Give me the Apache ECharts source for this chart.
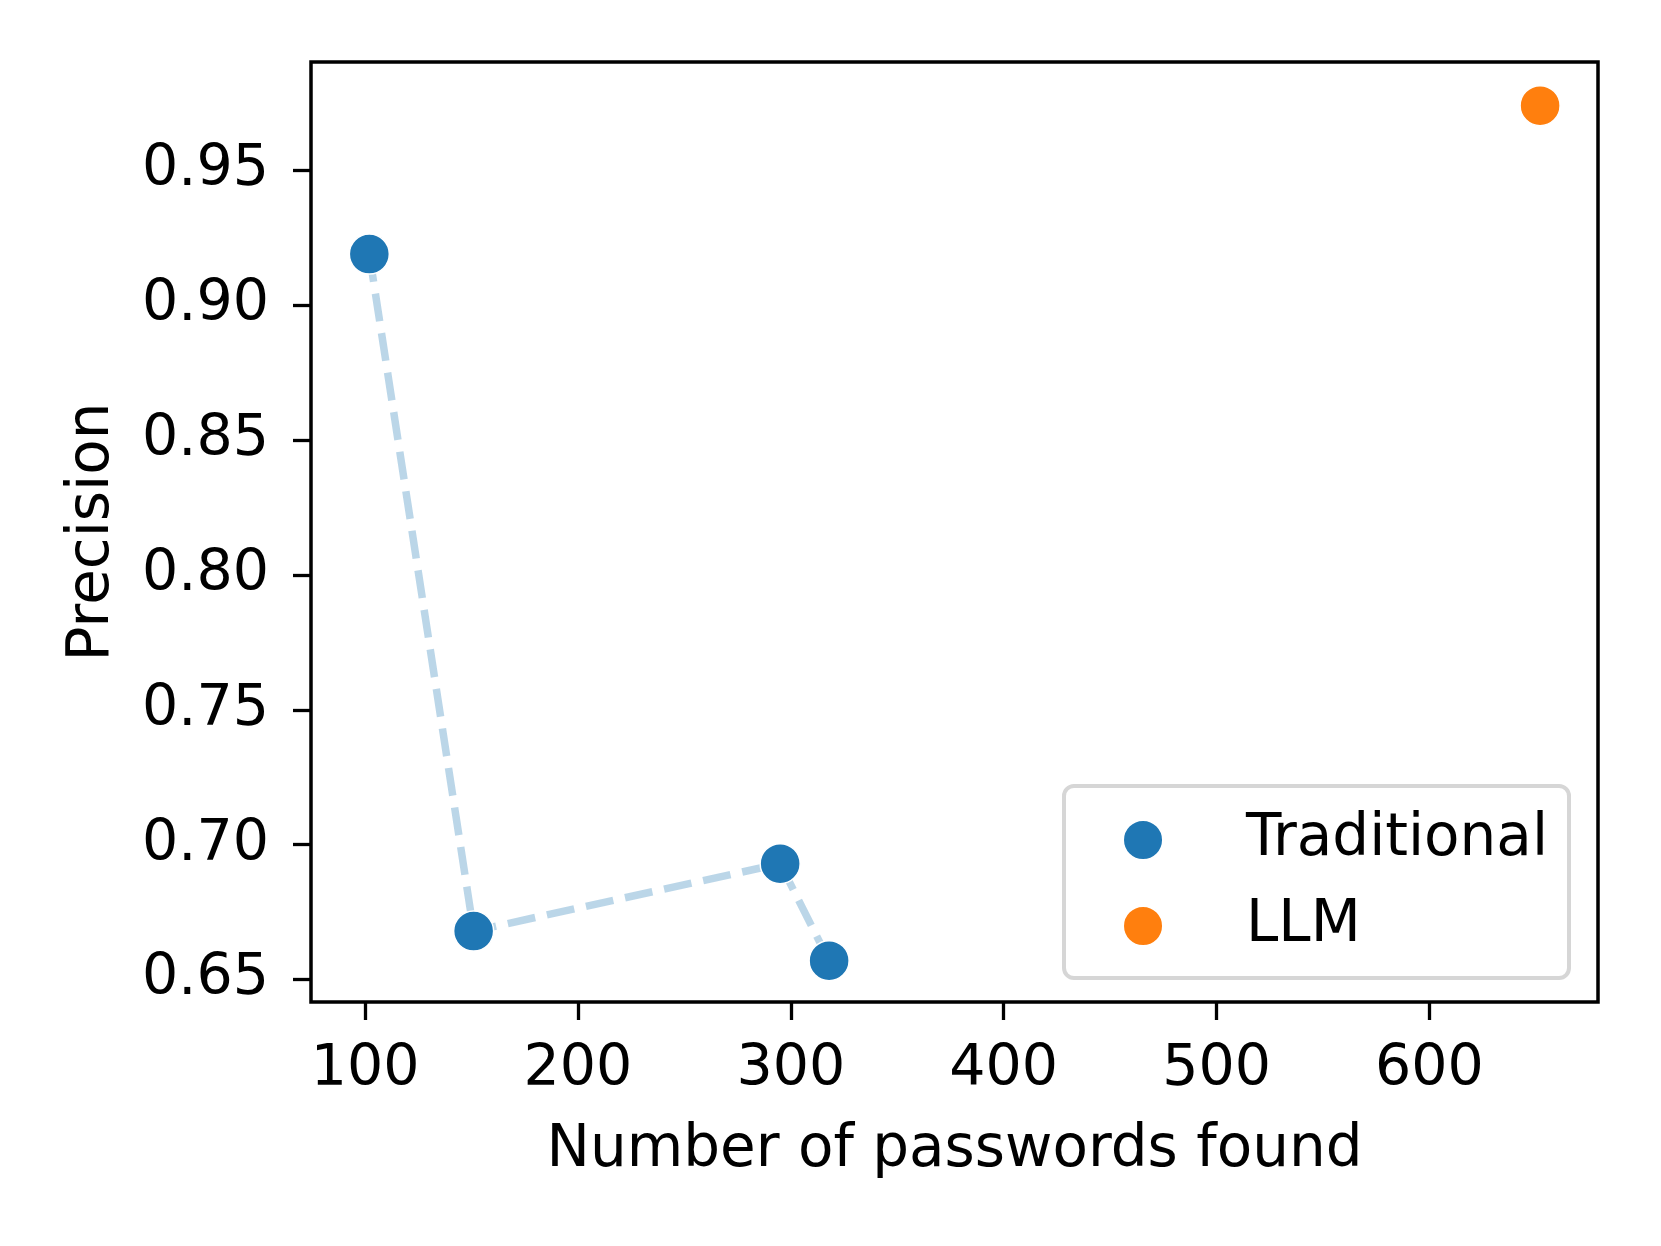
<!DOCTYPE html>
<html>
<head>
<meta charset="utf-8">
<script src="https://cdn.jsdelivr.net/npm/echarts@6/dist/echarts.min.js"></script>
<style>
html, body { margin: 0; padding: 0; background: #ffffff; }
#chart { width: 1661px; height: 1246px; }
</style>
</head>
<body>
<div id="chart"></div>
<script>
// ---- data ----
const traditionalX = [102, 151, 295, 318];
const traditionalY = [0.919, 0.668, 0.693, 0.657];
const llmX = [652];
const llmY = [0.974];
const xTicks = [100, 200, 300, 400, 500, 600];
const yTicks = [0.65, 0.70, 0.75, 0.80, 0.85, 0.90, 0.95];
const seriesNames = ['Traditional', 'LLM'];
const xTitle = 'Number of passwords found';
const yTitle = 'Precision';

const pairs = (xs, ys) => xs.map((x, i) => [x, ys[i]]);
const FONT = 'DejaVu Sans';
const FS = 57;
const FS_T = 58;

const chart = echarts.init(document.getElementById('chart'), null, { renderer: 'canvas' });
chart.setOption({
  animation: false,
  backgroundColor: '#ffffff',
  grid: {
    left: 311, top: 62, right: 63, bottom: 244,
    show: true, borderColor: '#000', borderWidth: 3.5, backgroundColor: 'transparent'
  },
  xAxis: {
    type: 'value', min: 74.6, max: 679.2,
    name: xTitle, nameLocation: 'middle', nameGap: 120,
    nameTextStyle: { fontFamily: FONT, fontSize: FS_T, color: '#000' },
    axisLine: { show: false },
    splitLine: { show: false },
    axisTick: { show: true, length: 18, lineStyle: { color: '#000', width: 3.3 }, customValues: xTicks },
    axisLabel: { fontFamily: FONT, fontSize: FS, color: '#000', margin: 40, customValues: xTicks }
  },
  yAxis: {
    type: 'value', min: 0.6417, max: 0.9902,
    name: yTitle, nameLocation: 'middle', nameGap: 189, nameRotate: 90,
    nameTextStyle: { fontFamily: FONT, fontSize: FS_T, color: '#000' },
    axisLine: { show: false },
    splitLine: { show: false },
    axisTick: { show: true, length: 18, lineStyle: { color: '#000', width: 3.3 }, customValues: yTicks },
    axisLabel: { fontFamily: FONT, fontSize: FS, color: '#000', margin: 42, customValues: yTicks,
      formatter: v => v.toFixed(2) }
  },
  legend: {
    data: seriesNames.map(n => ({ name: n, icon: 'circle' })),
    orient: 'vertical',
    right: 92, top: 786,
    padding: [25, 21, 23, 58],
    itemWidth: 40, itemHeight: 40, itemGap: 28,
    backgroundColor: '#fff',
    borderColor: '#d6d6d6', borderWidth: 4, borderRadius: 10,
    textStyle: { fontFamily: FONT, fontSize: FS_T, color: '#000', lineHeight: 57, padding: [0, 0, 0, 78] }
  },
  series: [
    {
      type: 'line', data: pairs(traditionalX, traditionalY),
      showSymbol: false, symbol: 'none', silent: true, z: 1,
      lineStyle: { color: 'rgba(31,119,180,0.3)', width: 7.5, type: [28, 12] }
    },
    {
      name: seriesNames[0], type: 'scatter', data: pairs(traditionalX, traditionalY),
      symbolSize: 40, z: 3,
      itemStyle: { color: '#1f77b4', borderColor: '#fff', borderWidth: 1.5, opacity: 1 }
    },
    {
      name: seriesNames[1], type: 'scatter', data: pairs(llmX, llmY),
      symbolSize: 40, z: 3,
      itemStyle: { color: '#ff7f0e', borderColor: '#fff', borderWidth: 1.5, opacity: 1 }
    }
  ]
});
</script>
</body>
</html>
